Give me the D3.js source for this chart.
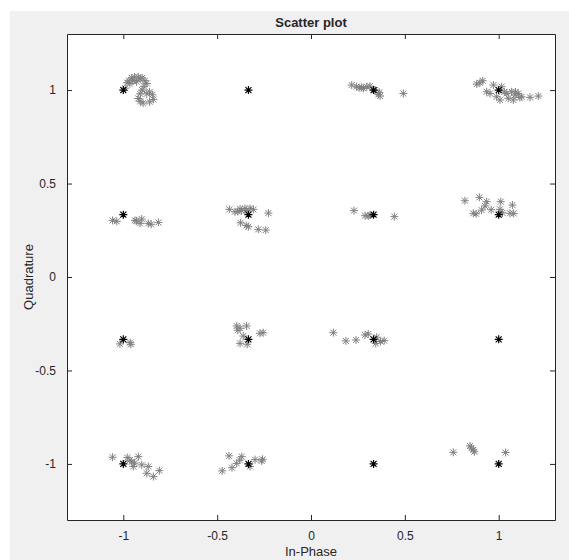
<!DOCTYPE html>
<meta charset="utf-8">
<script src="https://d3js.org/d3.v7.min.js"></script>
<style>
  body { margin: 0; background: #fff; }
  text { font-family: "Liberation Sans", Arial, Helvetica, sans-serif; fill: #262626; }
</style>
<div id="my_dataviz"></div>
<script>
// reference constellation (16-QAM)
var refLevels = [-1, -1/3, 1/3, 1];

// received symbols
var rxI = [
  // (-1, 1)
  -0.99,-0.98,-0.97,-0.955,-0.94,-0.92,-0.90,-0.885,-0.875,-0.89,-0.90,-0.91,-0.92,-0.91,-0.895,-0.875,-0.86,-0.845,-0.84,-0.86,-0.965,-0.93,-0.95,-0.91,
  // (1/3, 1)
  0.217,0.243,0.256,0.270,0.279,0.297,0.314,0.341,0.364,0.368,0.359,0.492,
  // (1, 1)
  0.883,0.900,0.915,0.936,0.954,0.972,0.989,1.007,1.016,1.03,1.043,1.051,1.069,1.078,1.087,1.09,1.104,1.113,1.122,1.167,1.211,
  // (-1, 1/3)
  -1.057,-1.035,-0.938,-0.93,-0.902,-0.911,-0.867,-0.852,-0.813,
  // (-1/3, 1/3)
  -0.435,-0.405,-0.39,-0.378,-0.37,-0.352,-0.345,-0.325,-0.307,-0.227,-0.375,-0.345,-0.334,-0.281,-0.241,
  // (1/3, 1/3)
  0.229,0.288,0.305,0.314,0.444,
  // (1, 1/3)
  0.820,0.865,0.88,0.897,0.909,0.927,0.936,0.96,1.007,1.011,1.02,1.060,1.073,1.08,
  // (-1, -1/3)
  -1.018,-0.964,-0.96,
  // (-1/3, -1/3)
  -0.396,-0.39,-0.378,-0.343,-0.361,-0.378,-0.34,-0.272,-0.255,
  // (1/3, -1/3)
  0.119,0.186,0.240,0.288,0.305,0.350,0.37,0.39,0.345,
  // (-1, -1)
  -1.057,-0.979,-0.965,-0.920,-0.955,-0.94,-0.947,-0.902,-0.867,-0.875,-0.840,-0.808,
  // (-1/3, -1)
  -0.473,-0.437,-0.421,-0.396,-0.38,-0.369,-0.325,-0.298,-0.263,-0.258,
  // (1, -1)
  0.758,0.847,0.855,0.865,0.87,1.037
];
var rxQ = [
  1.01,1.04,1.05,1.065,1.07,1.07,1.065,1.05,1.035,1.02,1.0,0.98,0.955,0.94,0.93,0.98,0.99,0.975,0.95,0.937,1.035,1.045,1.05,1.06,
  1.027,1.018,1.012,1.014,1.009,1.018,1.021,1.0,0.988,0.968,0.977,0.982,
  1.032,1.039,1.050,0.991,0.982,1.027,0.964,0.947,1.018,0.99,0.982,0.956,0.991,0.947,0.973,0.99,0.982,0.96,0.964,0.961,0.968,
  0.303,0.298,0.303,0.30,0.310,0.287,0.287,0.282,0.292,
  0.362,0.349,0.35,0.364,0.355,0.367,0.355,0.367,0.362,0.342,0.290,0.275,0.269,0.255,0.251,
  0.355,0.328,0.326,0.331,0.323,
  0.408,0.341,0.338,0.426,0.358,0.380,0.403,0.36,0.362,0.403,0.343,0.341,0.385,0.34,
  -0.358,-0.351,-0.36,
  -0.262,-0.285,-0.274,-0.262,-0.316,-0.355,-0.36,-0.301,-0.298,
  -0.298,-0.342,-0.337,-0.310,-0.305,-0.322,-0.345,-0.34,-0.355,
  -0.964,-0.966,-0.98,-0.961,-0.988,-0.996,-1.014,-1.005,-1.014,-1.050,-1.068,-1.036,
  -1.037,-0.957,-1.020,-0.997,-0.98,-0.961,-1.014,-0.977,-0.984,-0.975,
  -0.938,-0.904,-0.915,-0.925,-0.935,-0.939
];

var tickValues = [-1, -0.5, 0, 0.5, 1];

var W = 569, H = 560;

var svg = d3.select("#my_dataviz")
  .append("svg")
    .attr("width", W)
    .attr("height", H);

// figure background
svg.append("rect")
  .attr("x", 10).attr("y", 11)
  .attr("width", W - 10).attr("height", H - 11)
  .attr("fill", "#f0f0f0");

var x = d3.scaleLinear().domain([-1.3, 1.3]).range([67, 555]);
var y = d3.scaleLinear().domain([-1.3, 1.3]).range([520, 34]);

// axes area
svg.append("rect")
  .attr("x", x(-1.3)).attr("y", y(1.3))
  .attr("width", x(1.3) - x(-1.3)).attr("height", y(-1.3) - y(1.3))
  .attr("fill", "#fff");

var fmt = function(d) { return d3.format("")(d).replace("−", "-"); };

function styleAxis(g, labels) {
  g.select(".domain").attr("stroke", "#262626");
  g.selectAll(".tick line").attr("stroke", "#262626");
  g.selectAll(".tick text")
    .style("font-size", "12px")
    .style("font-family", "'Liberation Sans', Arial, sans-serif")
    .attr("fill", "#262626");
  if (!labels) g.selectAll(".tick text").remove();
}

svg.append("g")
  .attr("transform", "translate(0," + y(-1.3) + ")")
  .call(d3.axisBottom(x).tickValues(tickValues).tickSizeInner(-5).tickSizeOuter(0).tickPadding(11).tickFormat(fmt))
  .call(g => styleAxis(g, true));
svg.append("g")
  .attr("transform", "translate(0," + y(1.3) + ")")
  .call(d3.axisTop(x).tickValues(tickValues).tickSizeInner(-5).tickSizeOuter(0))
  .call(g => styleAxis(g, false));
svg.append("g")
  .attr("transform", "translate(" + x(-1.3) + ",0)")
  .call(d3.axisLeft(y).tickValues(tickValues).tickSizeInner(-5).tickSizeOuter(0).tickPadding(11).tickFormat(fmt))
  .call(g => styleAxis(g, true));
svg.append("g")
  .attr("transform", "translate(" + x(1.3) + ",0)")
  .call(d3.axisRight(y).tickValues(tickValues).tickSizeInner(-5).tickSizeOuter(0))
  .call(g => styleAxis(g, false));

// asterisk marker like matlab '*'
var r = 4, rd = 3;
var star = "M" + (-r) + ",0L" + r + ",0M0," + (-r) + "L0," + r +
           "M" + (-rd) + "," + (-rd) + "L" + rd + "," + rd +
           "M" + (-rd) + "," + rd + "L" + rd + "," + (-rd);

var received = rxI.map(function(d, i) { return {i: d, q: rxQ[i]}; });
var reference = [];
refLevels.forEach(function(qv) {
  refLevels.forEach(function(iv) { reference.push({i: iv, q: qv}); });
});

svg.append("g")
  .selectAll("path")
  .data(received)
  .enter()
  .append("path")
    .attr("d", star)
    .attr("transform", function(d) { return "translate(" + x(d.i) + "," + y(d.q) + ")"; })
    .attr("fill", "none")
    .attr("stroke", "#808080")
    .attr("stroke-width", 1);

svg.append("g")
  .selectAll("path")
  .data(reference)
  .enter()
  .append("path")
    .attr("d", star)
    .attr("transform", function(d) { return "translate(" + x(d.i) + "," + y(d.q) + ")"; })
    .attr("fill", "none")
    .attr("stroke", "#000")
    .attr("stroke-width", 1.2);

// title and labels
svg.append("text")
  .attr("x", x(0)).attr("y", 27)
  .attr("text-anchor", "middle")
  .style("font-size", "13px")
  .style("font-weight", "bold")
  .attr("fill", "#000")
  .text("Scatter plot");

svg.append("text")
  .attr("x", x(0)).attr("y", 556)
  .attr("text-anchor", "middle")
  .style("font-size", "13px")
  .text("In-Phase");

svg.append("text")
  .attr("transform", "translate(33," + y(0) + ") rotate(-90)")
  .attr("text-anchor", "middle")
  .style("font-size", "13px")
  .text("Quadrature");
</script>
